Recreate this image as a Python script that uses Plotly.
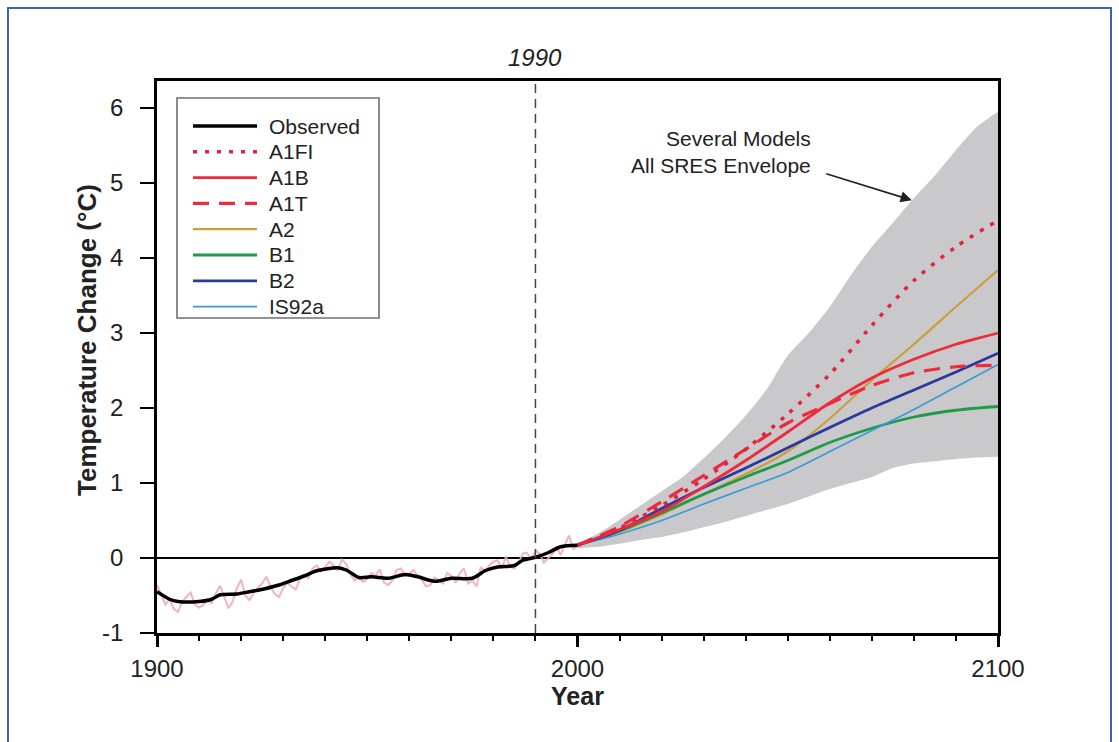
import plotly.graph_objects as go

# ---------------- data ----------------
obs_smooth_years = [1900, 1903, 1905, 1910, 1913, 1915, 1919, 1922, 1924, 1929, 1932, 1935,
                    1938, 1943, 1945, 1948, 1951, 1955, 1959, 1962, 1966, 1970, 1975, 1978,
                    1981, 1985, 1987, 1990, 1993, 1996, 2000]
obs_smooth_values = [-0.45, -0.55, -0.58, -0.58, -0.55, -0.49, -0.48, -0.45, -0.43, -0.36, -0.30, -0.24,
                     -0.17, -0.13, -0.16, -0.26, -0.25, -0.27, -0.22, -0.25, -0.31, -0.27, -0.27, -0.17,
                     -0.12, -0.10, -0.03, 0.01, 0.07, 0.15, 0.17]

obs_annual_years = list(range(1900, 2001))
obs_annual_values = [
    -0.36, -0.50, -0.62, -0.55, -0.68, -0.72, -0.58, -0.52, -0.46, -0.62,
    -0.66, -0.63, -0.55, -0.60, -0.47, -0.37, -0.52, -0.67, -0.58, -0.40,
    -0.29, -0.50, -0.56, -0.46, -0.40, -0.34, -0.25, -0.38, -0.48, -0.52,
    -0.40, -0.33, -0.38, -0.42, -0.28, -0.22, -0.27, -0.14, -0.10, -0.18,
    -0.12, -0.05, -0.10, -0.16, -0.02, -0.08, -0.22, -0.30, -0.25, -0.32,
    -0.28, -0.20, -0.24, -0.15, -0.33, -0.36, -0.30, -0.16, -0.14, -0.24,
    -0.21, -0.16, -0.24, -0.29, -0.38, -0.36, -0.26, -0.29, -0.34, -0.20,
    -0.24, -0.33, -0.20, -0.14, -0.34, -0.30, -0.38, -0.12, -0.18, -0.10,
    -0.05, -0.03, -0.14, 0.02, -0.12, -0.14, -0.06, 0.06, 0.07, -0.02,
    0.10, 0.06, -0.06, 0.00, 0.05, 0.14, 0.04, 0.18, 0.30, 0.12,
    0.16]

env_years = [2000, 2005, 2010, 2015, 2020, 2025, 2030, 2035, 2040, 2045, 2050,
             2055, 2060, 2065, 2070, 2075, 2080, 2085, 2090, 2095, 2100]
env_upper = [0.20, 0.33, 0.51, 0.70, 0.89, 1.08, 1.33, 1.60, 1.90, 2.25, 2.70,
             3.00, 3.35, 3.77, 4.15, 4.47, 4.80, 5.10, 5.44, 5.75, 5.95]
env_lower = [0.13, 0.15, 0.19, 0.24, 0.28, 0.34, 0.41, 0.48, 0.56, 0.64, 0.72,
             0.82, 0.92, 1.00, 1.08, 1.20, 1.26, 1.29, 1.32, 1.34, 1.35]

scen_years = [2000, 2010, 2020, 2030, 2040, 2050, 2060, 2070, 2080, 2090, 2100]
a1fi = [0.17, 0.40, 0.70, 1.05, 1.45, 1.92, 2.45, 3.10, 3.70, 4.15, 4.50]
a1b = [0.17, 0.38, 0.62, 0.95, 1.30, 1.68, 2.07, 2.40, 2.65, 2.85, 3.00]
a1t = [0.17, 0.42, 0.75, 1.10, 1.45, 1.80, 2.06, 2.30, 2.47, 2.55, 2.57]
a2 = [0.17, 0.35, 0.58, 0.85, 1.12, 1.42, 1.86, 2.37, 2.85, 3.35, 3.84]
b1 = [0.17, 0.36, 0.60, 0.85, 1.08, 1.30, 1.54, 1.73, 1.88, 1.97, 2.02]
b2 = [0.17, 0.37, 0.66, 0.94, 1.20, 1.47, 1.74, 2.00, 2.24, 2.48, 2.73]
is92a = [0.17, 0.32, 0.50, 0.72, 0.93, 1.14, 1.42, 1.70, 1.98, 2.28, 2.58]

legend_names = ["Observed", "A1FI", "A1B", "A1T", "A2", "B1", "B2", "IS92a"]
y_ticks = [-1, 0, 1, 2, 3, 4, 5, 6]
x_ticks = [1900, 2000, 2100]

FONT = "Liberation Sans, Arial, Helvetica, sans-serif"
TXT = "#222222"

# plot area in pixels (for layout-only placement)
L, R, T, B = 157, 998, 81, 633


def px(xpix):
    return (xpix - L) / (R - L)


def py(ypix):
    return (B - ypix) / (B - T)


styles = {
    "Observed": dict(color="black", width=3.5, dash="solid"),
    "A1FI": dict(color="#e4243f", width=3.6, dash="4px,8px"),
    "A1B": dict(color="#ee2a3c", width=2.8, dash="solid"),
    "A1T": dict(color="#ee2a3c", width=3.2, dash="16px,10px"),
    "A2": dict(color="#cc9e3c", width=2.2, dash="solid"),
    "B1": dict(color="#1f9a4a", width=2.8, dash="solid"),
    "B2": dict(color="#2a3a9c", width=2.8, dash="solid"),
    "IS92a": dict(color="#3a9bd6", width=1.8, dash="solid"),
}
series = {"A1FI": a1fi, "A1B": a1b, "A1T": a1t, "A2": a2, "B1": b1, "B2": b2, "IS92a": is92a}

fig = go.Figure()

# envelope
fig.add_trace(go.Scatter(x=env_years, y=env_lower, mode="lines",
                         line=dict(width=0, color="#c9c9cb", shape="spline", smoothing=0.6),
                         showlegend=False, hoverinfo="skip"))
fig.add_trace(go.Scatter(x=env_years, y=env_upper, mode="lines",
                         line=dict(width=0, color="#c9c9cb", shape="spline", smoothing=0.6),
                         fill="tonexty", fillcolor="#c9c9cb", showlegend=False, hoverinfo="skip",
                         name="Several Models All SRES Envelope"))

# annual observed (pink)
fig.add_trace(go.Scatter(x=obs_annual_years, y=obs_annual_values, mode="lines",
                         line=dict(color="rgba(240,165,190,0.85)", width=2),
                         showlegend=False, hoverinfo="skip"))

for name in ["A2", "B1", "IS92a", "B2", "A1B", "A1T", "A1FI"]:
    st = styles[name]
    fig.add_trace(go.Scatter(x=scen_years, y=series[name], mode="lines", name=name, showlegend=False,
                             line=dict(color=st["color"], width=st["width"], dash=st["dash"],
                                       shape="spline", smoothing=0.8)))

st = styles["Observed"]
fig.add_trace(go.Scatter(x=obs_smooth_years, y=obs_smooth_values, mode="lines", name="Observed",
                         showlegend=False,
                         line=dict(color=st["color"], width=st["width"], shape="spline", smoothing=0.8)))

# 1990 dashed vertical line
fig.add_shape(type="line", xref="x", yref="paper", x0=1990, x1=1990, y0=0, y1=1,
              line=dict(color="#444444", width=1.5, dash="9px,6px"), layer="above")

# outer blue frame
fig.add_shape(type="rect", xref="paper", yref="paper",
              x0=px(8), x1=px(1111), y0=py(760), y1=py(8),
              line=dict(color="#3b64aa", width=2), fillcolor="rgba(0,0,0,0)", layer="below")

# legend box (drawn manually for exact entry spacing)
fig.add_shape(type="rect", xref="paper", yref="paper",
              x0=px(177), x1=px(379), y0=py(318), y1=py(98),
              line=dict(color="#707070", width=1.6), fillcolor="white", layer="above")
for i, name in enumerate(legend_names):
    yc = 126 + 25.8 * i
    st = styles[name]
    fig.add_shape(type="line", xref="paper", yref="paper",
                  x0=px(193), x1=px(257), y0=py(yc), y1=py(yc),
                  line=dict(color=st["color"], width=st["width"], dash=st["dash"]), layer="above")
    fig.add_annotation(x=px(267), y=py(yc), xref="paper", yref="paper", text=name,
                       showarrow=False, xanchor="left", yanchor="middle",
                       font=dict(family=FONT, size=21, color=TXT))

# annotations
fig.add_annotation(x=1990, y=py(58), xref="x", yref="paper", text="<i>1990</i>",
                   showarrow=False, xanchor="center", yanchor="middle",
                   font=dict(family=FONT, size=24, color=TXT))
fig.add_annotation(x=2056, y=5.41, xref="x", yref="y", text="Several Models<br>All SRES Envelope",
                   showarrow=False, xanchor="right", yanchor="middle", align="right",
                   font=dict(family=FONT, size=21, color=TXT))
fig.add_annotation(x=2079.5, y=4.77, xref="x", yref="y", text="", showarrow=True,
                   ax=-87, ay=-27, arrowhead=2, arrowsize=1.4, arrowwidth=1.6, arrowcolor=TXT)
# y-axis title (placed to match the original's vertical offset)
fig.add_annotation(x=px(87), y=py(340), xref="paper", yref="paper",
                   text="<b>Temperature Change (°C)</b>", textangle=-90, showarrow=False,
                   xanchor="center", yanchor="middle", font=dict(family=FONT, size=26, color=TXT))

fig.update_layout(
    width=1119, height=742, autosize=False,
    margin=dict(l=L, r=1119 - R, t=T, b=742 - B),
    paper_bgcolor="white", plot_bgcolor="white",
    font=dict(family=FONT, color=TXT),
    showlegend=False,
    xaxis=dict(range=[1900, 2100], tickvals=x_ticks, ticktext=[str(v) for v in x_ticks],
               showgrid=False, zeroline=False, showline=True, linecolor="black", linewidth=2.5,
               mirror=True, ticks="outside", ticklen=11, tickwidth=2.5, tickcolor="black",
               minor=dict(dtick=10, tick0=1900, ticks="outside", ticklen=5, tickwidth=2, tickcolor="black"),
               tickfont=dict(family=FONT, size=24, color=TXT), ticklabelstandoff=1,
               title=dict(text="<b>Year</b>", font=dict(family=FONT, size=25, color=TXT), standoff=4),
               fixedrange=True),
    yaxis=dict(range=[-1, 6.36], tickvals=y_ticks, ticktext=[str(v) for v in y_ticks],
               showgrid=False, zeroline=True, zerolinecolor="black", zerolinewidth=2,
               showline=True, linecolor="black", linewidth=2.5, mirror=True,
               ticks="outside", ticklen=14, tickwidth=2, tickcolor="black",
               tickfont=dict(family=FONT, size=24, color=TXT), ticklabelstandoff=12,
               fixedrange=True),
)

fig.write_html("out.html")
